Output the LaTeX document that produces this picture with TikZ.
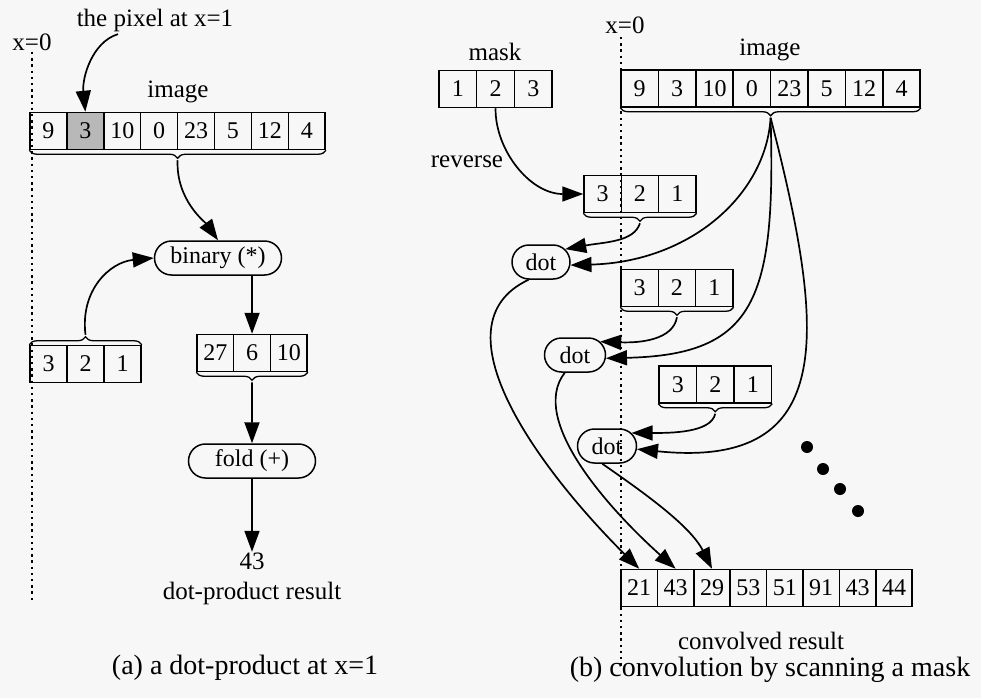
\documentclass[tikz,border=0pt]{standalone}
\usepackage{fontspec}
\setmainfont{Liberation Serif}
\usetikzlibrary{arrows.meta,shapes.misc,decorations.pathreplacing,calc}

% a row of boxed values: name prefix, left x, centre y, cell width, value/style list
\newcommand\cellrow[5]{%
  \foreach \v/\s [count=\i] in {#5} {%
    \node[cellbox, minimum width=#4pt, \s] (#1-\i) at ({#2+(\i-0.5)*#4}, #3) {\v};
  }%
}

\begin{document}
\begin{tikzpicture}[x=1pt, y=-1pt,
  line width=1.6pt,
  arr/.style={-{Triangle[length=21pt,width=15pt]}, line width=1.7pt},
  cellbox/.style={draw, line width=1.5pt, inner sep=0pt, minimum height=37pt,
    font=\fontsize{24}{28}\selectfont},
  plain/.style={},
  shaded/.style={fill=black!28},
  oval/.style={draw, rounded rectangle, line width=1.5pt, minimum height=34pt,
    inner sep=2pt, font=\fontsize{24}{28}\selectfont},
  lbl/.style={font=\fontsize{25}{30}\selectfont, inner sep=0pt},
  captext/.style={font=\fontsize{28}{32}\selectfont, inner sep=0pt},
  brc/.style={decorate, decoration={brace, amplitude=8pt}, line width=1.3pt},
  zeroline/.style={line width=2.4pt, dash pattern=on 2.4pt off 3.8pt},
  blob/.style={fill=black}
]
\fill[black!3] (0,0) rectangle (981,698);
\useasboundingbox (0,0) rectangle (981,698);

% ---------------- (a) a dot-product at x=1 ----------------
\node[lbl] (za) at (32,42) {x=0};
\coordinate (zatop) at (32,52);
\coordinate (zabot) at (32,600);
\draw[zeroline] (zatop) -- (zabot);

\node[lbl] (pix) at (155,20) {the pixel at x=1};
\node[lbl] (aimglbl) at (178,92) {image};
\cellrow{aimg}{30}{131}{36.9}{9/plain,3/shaded,10/plain,0/plain,23/plain,5/plain,12/plain,4/plain}
\draw[brc] (aimg-8.south east) -- (aimg-1.south west);
\coordinate (aimgtip) at ($(aimg-1.south west)!0.5!(aimg-8.south east)+(0,10)$);

\node[oval, minimum width=131pt] (binary) at (218,258) {binary (*)};

\cellrow{akern}{30}{364}{37}{3/plain,2/plain,1/plain}
\draw[brc] (akern-1.north west) -- (akern-3.north east);
\coordinate (akerntip) at ($(akern-1.north west)!0.5!(akern-3.north east)+(0,-10)$);

\cellrow{ares}{197}{353}{36.7}{27/plain,6/plain,10/plain}
\draw[brc] (ares-3.south east) -- (ares-1.south west);
\coordinate (arestip) at ($(ares-1.south west)!0.5!(ares-3.south east)+(0,10)$);

\node[oval, minimum width=131pt] (fold) at (252,461) {fold (+)};
\node[lbl] (n43) at (252,561) {43};
\node[lbl] (dpr) at (252,593) {dot-product result};
\node[captext] (capa) at (245,668) {(a) a dot-product at x=1};

\coordinate (pixfoot) at ($(pix.south)+(-37,2)$);
\draw[arr] (pixfoot) .. controls (92,42) and (82,78) .. (aimg-2.north);
\draw[arr] (aimgtip) .. controls (176,200) and (205,222) .. (binary.north);
\draw[arr] (akerntip) .. controls (80,290) and (110,262) .. (binary.west);
\draw[arr] (binary.south -| ares-2.north) -- (ares-2.north);
\draw[arr] (arestip) -- (fold.north);
\draw[arr] (fold.south) -- (n43.north);

% ---------------- (b) convolution by scanning a mask ----------------
\node[lbl] (zb) at (625,25) {x=0};
\coordinate (zbtop) at (621,37);
\coordinate (zbbot) at (621,668);
\draw[zeroline] (zbtop) -- (zbbot);

\node[lbl] (masklbl) at (495,52) {mask};
\cellrow{mask}{439}{89}{37.7}{1/plain,2/plain,3/plain}

\node[lbl] (bimglbl) at (770,50) {image};
\cellrow{bimg}{621}{88.5}{37.4}{9/plain,3/plain,10/plain,0/plain,23/plain,5/plain,12/plain,4/plain}
\draw[brc] (bimg-8.south east) -- (bimg-1.south west);
\coordinate (bimgtip) at ($(bimg-1.south west)!0.5!(bimg-8.south east)+(0,10)$);

\node[lbl] (rev) at (467,162) {reverse};

\cellrow{revA}{584}{194}{37.3}{3/plain,2/plain,1/plain}
\draw[brc] (revA-3.south east) -- (revA-1.south west);
\coordinate (revAtip) at ($(revA-1.south west)!0.5!(revA-3.south east)+(0,10)$);

\cellrow{revB}{621}{288}{37.3}{3/plain,2/plain,1/plain}
\draw[brc] (revB-3.south east) -- (revB-1.south west);
\coordinate (revBtip) at ($(revB-1.south west)!0.5!(revB-3.south east)+(0,10)$);

\cellrow{revC}{659}{384.5}{37.5}{3/plain,2/plain,1/plain}
\draw[brc] (revC-3.south east) -- (revC-1.south west);
\coordinate (revCtip) at ($(revC-1.south west)!0.5!(revC-3.south east)+(0,10)$);

\node[oval, minimum width=62pt] (dotA) at (541,262) {dot};
\node[oval, minimum width=65pt] (dotB) at (575,355) {dot};
\node[oval, minimum width=63pt] (dotC) at (607,446) {dot};

\cellrow{bres}{621}{588}{36.4}{21/plain,43/plain,29/plain,53/plain,51/plain,91/plain,43/plain,44/plain}
\node[lbl] (conv) at (761,641) {convolved result};
\node[captext] (capb) at (770,670) {(b) convolution by scanning a mask};

% further steps continue
\fill[blob] (807,447) circle[radius=6pt];
\fill[blob] (823,469) circle[radius=6pt];
\fill[blob] (840,489) circle[radius=6pt];
\fill[blob] (858,511) circle[radius=6pt];

% mask reversal
\draw[arr] (mask-2.south) .. controls (495,150) and (530,194) .. (revA-1.west);

% inputs to each dot-product
\draw[arr] (revAtip) .. controls (634,242) and (605,242) .. (dotA.28);
\draw[arr] (bimgtip) .. controls (766,195) and (690,262) .. (dotA.-6);
\draw[arr] (revBtip) .. controls (673,340) and (640,343) .. (dotB.28);
\draw[arr] (bimgtip) .. controls (776,300) and (755,355) .. (dotB.-6);
\draw[arr] (revCtip) .. controls (711,433) and (670,433) .. (dotC.28);
\draw[arr] (bimgtip) .. controls (825,330) and (840,470) .. (dotC.-6);

% outputs to the result
\draw[arr] (dotA.235) .. controls (432,325) and (540,470) .. (bres-1.north);
\draw[arr] (dotB.240) .. controls (528,420) and (610,510) .. (bres-2.north);
\draw[arr] (dotC.-105) .. controls (640,490) and (690,525) .. (bres-3.north);
\end{tikzpicture}
\end{document}
